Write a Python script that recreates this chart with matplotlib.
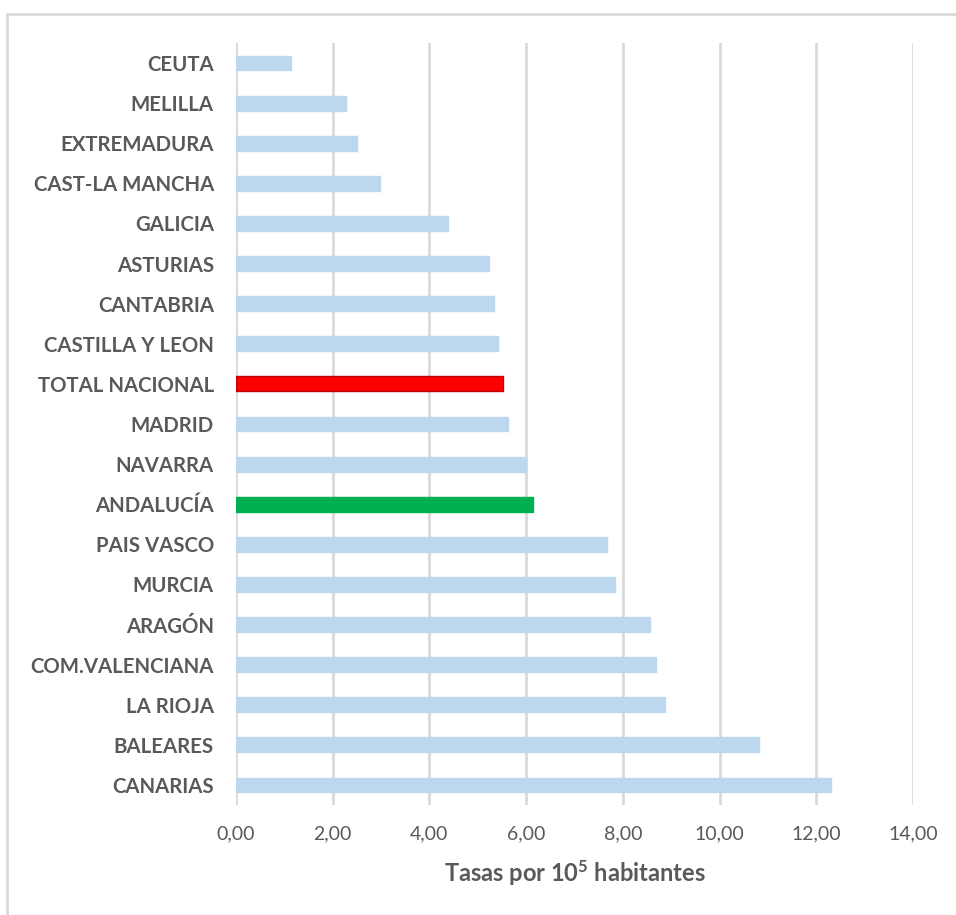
import matplotlib
matplotlib.use("Agg")
import matplotlib.pyplot as plt
from matplotlib.patches import Rectangle

regions = ["CEUTA", "MELILLA", "EXTREMADURA", "CAST-LA MANCHA", "GALICIA",
           "ASTURIAS", "CANTABRIA", "CASTILLA Y LEON", "TOTAL NACIONAL", "MADRID",
           "NAVARRA", "ANDALUCÍA", "PAIS VASCO", "MURCIA", "ARAGÓN",
           "COM.VALENCIANA", "LA RIOJA", "BALEARES", "CANARIAS"]
rates = [1.14, 2.27, 2.50, 2.98, 4.38, 5.23, 5.33, 5.42, 5.52, 5.62,
         6.00, 6.14, 7.67, 7.84, 8.56, 8.68, 8.87, 10.81, 12.30]
x_ticks = [0, 2, 4, 6, 8, 10, 12, 14]
x_ticklabels = ["0,00", "2,00", "4,00", "6,00", "8,00", "10,00", "12,00", "14,00"]

base_color = "#bdd7ee"
highlight = {"TOTAL NACIONAL": ("#ff0000", "#c00000"),
             "ANDALUCÍA": ("#00b050", "#00b050")}
text_gray = "#595959"
grid_gray = "#d9d9d9"

plt.rcParams["font.family"] = ["Lato", "DejaVu Sans"]
plt.rcParams["mathtext.fontset"] = "custom"
plt.rcParams["mathtext.rm"] = "Lato:bold"
plt.rcParams["mathtext.it"] = "Lato:bold"
plt.rcParams["mathtext.bf"] = "Lato:bold"

fig = plt.figure(figsize=(9.56, 9.15), dpi=100)
ax = fig.add_axes([236 / 956, 1 - 805 / 915, (913 - 236) / 956, (805 - 43) / 915])

ypos = list(range(len(regions)))
faces = [highlight.get(r, (base_color, base_color))[0] for r in regions]
edges = [highlight.get(r, (base_color, base_color))[1] for r in regions]
ax.barh(ypos, rates, height=0.37, color=faces, edgecolor=edges, linewidth=1, zorder=3)

ax.set_xlim(0, 14)
ax.set_ylim(len(regions) - 0.5, -0.5)
ax.set_xticks(x_ticks)
ax.set_xticklabels(x_ticklabels, fontsize=14, color=text_gray)
ax.set_yticks(ypos)
ax.set_yticklabels(regions, fontsize=14.7, fontweight="bold", color=text_gray)
ax.tick_params(axis="both", length=0)
ax.tick_params(axis="x", pad=15)
ax.tick_params(axis="y", pad=16)
ax.grid(axis="x", color=grid_gray, linewidth=2, zorder=0)
for s in ax.spines.values():
    s.set_visible(False)

ax.set_xlabel(r"Tasas por 10$^5$ habitantes", fontsize=17, fontweight="bold",
              color=text_gray, labelpad=11)

# outer chart frame
fig.patches.append(Rectangle((7 / 956, -0.1), 1.2, 1 - 14 / 915 + 0.1,
                             transform=fig.transFigure, fill=False,
                             edgecolor=grid_gray, linewidth=2))

fig.savefig("out.png", dpi=100, facecolor="white")
